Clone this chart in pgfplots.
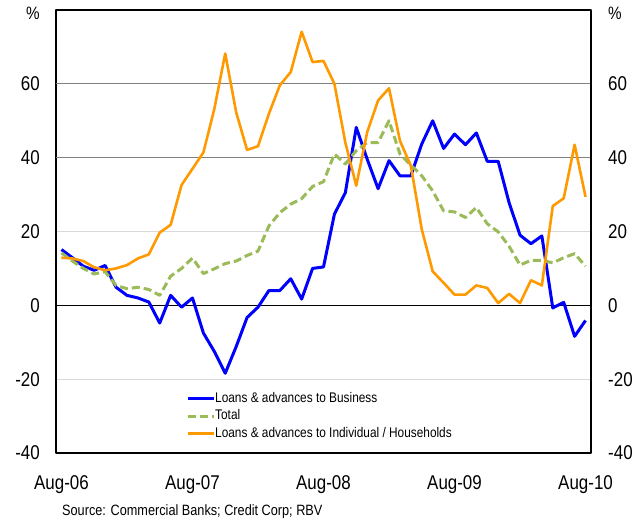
\documentclass[border=0pt]{standalone}
\usepackage{fontspec}
\setmainfont{Liberation Sans}[FakeStretch=0.85]
\usepackage{pgfplots}
\pgfplotsset{compat=1.18}
\definecolor{cBlue}{HTML}{0000FF}
\definecolor{cGreen}{HTML}{9BBB59}
\definecolor{cOrange}{HTML}{FF9900}
\definecolor{gridDark}{HTML}{808080}
\definecolor{gridLight}{HTML}{D9D9D9}

\pgfplotstableread{
m business total indiv
0 15.1 14.2 12.9
1 12.9 12.0 12.7
2 10.6 10.0 12.0
3 9.5 8.5 10.3
4 10.8 9.1 9.5
5 4.9 5.4 10.0
6 2.7 4.5 10.9
7 2.0 4.9 12.7
8 0.9 4.3 13.8
9 -4.8 2.7 19.7
10 2.7 7.9 21.8
11 -0.5 10.0 32.6
12 2.0 12.8 37.0
13 -7.5 8.6 41.4
14 -12.5 9.9 53.2
15 -18.4 11.3 68.2
16 -11.2 12.0 52.3
17 -3.3 13.5 42.1
18 -0.5 14.7 43.1
19 4.0 21.5 51.9
20 4.0 25.1 59.6
21 7.2 27.4 63.2
22 1.7 28.9 74.1
23 10.0 32.2 65.9
24 10.4 33.5 66.2
25 24.7 41.0 60.0
26 30.5 38.3 44.1
27 48.2 41.9 32.4
28 39.6 44.1 46.9
29 31.6 44.1 55.5
30 39.2 50.0 58.8
31 35.1 41.0 44.6
32 35.1 38.0 37.8
33 43.7 35.1 20.6
34 50.0 31.0 9.2
35 42.5 25.6 6.1
36 46.4 25.3 2.9
37 43.5 23.8 2.9
38 46.7 26.5 5.4
39 39.0 22.1 4.7
40 39.0 19.9 0.6
41 27.8 16.0 3.1
42 19.0 10.9 0.6
43 16.7 12.2 6.8
44 18.8 12.2 5.4
45 -0.7 11.5 26.9
46 0.8 12.9 29.0
47 -8.4 14.0 43.5
48 -4.1 10.6 29.4
}\datatable

\begin{document}
\begin{tikzpicture}
\begin{axis}[
  at={(56bp,67bp)}, anchor=south west,
  scale only axis, width=535bp, height=443bp,
  xmin=-0.5, xmax=48.5, ymin=-40, ymax=80,
  xtick={0,12,24,36,48},
  xticklabels={Aug-06,Aug-07,Aug-08,Aug-09,Aug-10},
  ytick={-40,-20,0,20,40,60},
  major tick length=0pt,
  ymajorgrids,
  major grid style={gridLight, line width=0.8bp},
  axis line style={line width=1.6bp},
  tick label style={font=\fontsize{20}{24}\selectfont},
  /pgf/number format/assume math mode=true,
  yticklabel style={anchor=east, inner sep=0pt, xshift=-16bp},
  xticklabel style={anchor=north, inner sep=0pt, yshift=-22bp},
  legend cell align=left,
  legend image code/.code={\draw[#1] (0bp,0bp) -- (26bp,0bp);},
  legend style={draw=none, fill=none, inner sep=0pt,
    at={(rel axis cs:0.243,0.138)}, anchor=north west,
    font=\fontsize{14}{16}\selectfont, row sep=4.5bp,
    nodes={inner sep=0pt, text height=10bp, text depth=3bp},
    /tikz/every even column/.append style={column sep=4bp}},
  line join=round,
]
\draw[gridDark, line width=1.2bp] (axis cs:-0.5,40) -- (axis cs:48.5,40);
\draw[gridDark, line width=1.2bp] (axis cs:-0.5,60) -- (axis cs:48.5,60);
\draw[black, line width=1bp] (axis cs:-0.5,0) -- (axis cs:48.5,0);
\addplot[cBlue, line width=3bp] table[x=m, y=business] {\datatable};
\addlegendentry{Loans \& advances to Business}
\addplot[cGreen, line width=3bp, dash pattern=on 8bp off 4bp] table[x=m, y=total] {\datatable};
\addlegendentry{Total}
\addplot[cOrange, line width=2.6bp] table[x=m, y=indiv] {\datatable};
\addlegendentry{Loans \& advances to Individual / Households}
\end{axis}
\begin{axis}[
  at={(56bp,67bp)}, anchor=south west,
  scale only axis, width=535bp, height=443bp,
  xmin=-0.5, xmax=48.5, ymin=-40, ymax=80,
  hide x axis, axis y line*=right,
  ytick={-40,-20,0,20,40,60},
  major tick length=0pt,
  axis line style={line width=1.6bp},
  tick label style={font=\fontsize{20}{24}\selectfont},
  /pgf/number format/assume math mode=true,
  yticklabel style={anchor=west, inner sep=0pt, xshift=17bp},
]
\addplot[draw=none] coordinates {(0,0)};
\end{axis}
\node[anchor=base, inner sep=0pt, font=\fontsize{18}{20}\selectfont] at (33bp,500bp) {\%};
\node[anchor=base, inner sep=0pt, font=\fontsize{18}{20}\selectfont] at (615bp,500bp) {\%};
\node[anchor=base west, inner sep=0pt, font=\fontsize{15}{18}\selectfont] at (62bp,5bp) {Source: Commercial Banks; Credit Corp; RBV};
\pgfresetboundingbox
\path (0bp,0bp) rectangle (634bp,520bp);
\end{tikzpicture}
\end{document}
